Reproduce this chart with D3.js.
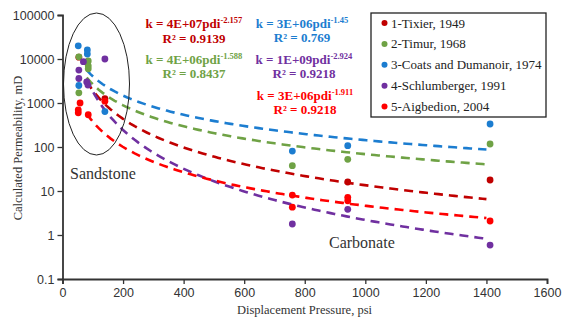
<!DOCTYPE html>
<html><head><meta charset="utf-8">
<script src="https://cdn.jsdelivr.net/npm/d3@7"></script>
<style>
html,body{margin:0;padding:0;background:#fff;}
svg{display:block;}
</style></head>
<body>
<svg id="chart" width="563" height="320"></svg>
<script>
// ---------- data ----------
const seriesNames = ["1-Tixier, 1949","2-Timur, 1968","3-Coats and Dumanoir, 1974","4-Schlumberger, 1991","5-Aigbedion, 2004"];
const seriesColors = ["#C00000","#6FA245","#1C7DD0","#7030A0","#FF0000"];
// pressure (psi) and permeability (mD) for each series
const tixierX = [54, 82, 140, 942, 1412];
const tixierY = [11000, 8500, 1250, 16, 17.8];
const timurX = [54, 85, 85, 85, 54, 759, 942, 1412];
const timurY = [11200, 9000, 7000, 6000, 1700, 37.6, 52.5, 117];
const coatsX = [52, 82, 82, 54, 140, 759, 942, 1412];
const coatsY = [19900, 16000, 13000, 2500, 640, 81, 107, 333];
const schlX = [140, 69, 54, 54, 80, 84, 759, 942, 1412];
const schlY = [10000, 8700, 5600, 3600, 3000, 2550, 1.78, 3.84, 0.59];
const aigX = [58, 52, 52, 85, 140, 759, 759, 942, 942, 1412];
const aigY = [1000, 700, 600, 540, 1100, 8.1, 4.3, 7.2, 6.0, 2.08];
// power-law trendlines k = a * pdi^b (as drawn)
const trendA = [4e7, 4e6, 3.2e6, 1.3e9, 2.5e6];
const trendB = [-2.157, -1.588, -1.45, -2.924, -1.911];
const trendRange = [80, 1400];
// equation labels
const eqCoef = ["k = 4E+07pdi","k = 4E+06pdi","k = 3E+06pdi","k = 1E+09pdi","k = 3E+06pdi"];
const eqExp = ["-2.157","-1.588","-1.45","-2.924","-1.911"];
const eqR2 = ["R² = 0.9139","R² = 0.8437","R² = 0.769","R² = 0.9218","R² = 0.9218"];
const xTicks = [0,200,400,600,800,1000,1200,1400,1600];
const yTicks = [0.1,1,10,100,1000,10000,100000];
const xTitle = "Displacement Pressure, psi";
const yTitle = "Calculated Permeability, mD";
const zoneLabels = ["Sandstone","Carbonate"];

const allX = [tixierX, timurX, coatsX, schlX, aigX];
const allY = [tixierY, timurY, coatsY, schlY, aigY];

// ---------- layout ----------
const svg = d3.select("#chart");
const serif = "'Liberation Serif','Times New Roman',serif";
const sans = "'Liberation Sans',Arial,sans-serif";
const x = d3.scaleLinear().domain([0,1600]).range([62.5,547]);
const y = d3.scaleLog().domain([0.1,100000]).range([279,15]);

// trendlines
const line = d3.line().x(d=>x(d[0])).y(d=>y(d[1]));
trendA.forEach((a,i)=>{
  const pts = d3.range(0,101).map(k=>{
    const px = trendRange[0] + (trendRange[1]-trendRange[0])*k/100;
    return [px, a*Math.pow(px, trendB[i])];
  });
  svg.append("path").attr("d", line(pts)).attr("fill","none")
    .attr("stroke", seriesColors[i]).attr("stroke-width",2.6)
    .attr("stroke-dasharray","9,6");
});

// points
allX.forEach((xs,i)=>{
  svg.append("g").selectAll("circle").data(xs).join("circle")
    .attr("cx", d=>x(d)).attr("cy",(d,j)=>y(allY[i][j])).attr("r",3.4)
    .attr("fill", seriesColors[i]);
});

// axes
const yAxis = d3.axisLeft(y).tickValues(yTicks).tickSize(5).tickFormat(d=>String(d));
const xAxis = d3.axisBottom(x).tickValues(xTicks).tickSize(5).tickFormat(d=>String(d));
const gy = svg.append("g").attr("transform","translate(62.5,0)").call(yAxis);
const gx = svg.append("g").attr("transform","translate(0,279)").call(xAxis);
[gx,gy].forEach(g=>{
  g.select(".domain").attr("stroke","#333").attr("stroke-width",1.8);
  g.selectAll(".tick line").attr("stroke","#333").attr("stroke-width",1.3);
  g.selectAll("text").attr("font-family",sans).attr("font-size","12.5px").attr("fill","#333");
});
gy.selectAll("text").attr("x",-8);
gx.selectAll("text").attr("y",9);

// axis titles
svg.append("text").attr("x",304.5).attr("y",314).attr("text-anchor","middle")
  .attr("font-family",serif).attr("font-size","12.5px").attr("fill","#333").text(xTitle);
svg.append("text").attr("transform","translate(22,148) rotate(-90)").attr("text-anchor","middle")
  .attr("font-family",serif).attr("font-size","12.5px").attr("fill","#333").text(yTitle);

// sandstone ellipse
svg.append("ellipse").attr("cx",96.5).attr("cy",84).attr("rx",33).attr("ry",71)
  .attr("fill","none").attr("stroke","#222").attr("stroke-width",1);

svg.append("text").attr("x",70).attr("y",179).attr("font-family",serif).attr("font-size","16px")
  .attr("fill","#333").text(zoneLabels[0]);
svg.append("text").attr("x",329).attr("y",248).attr("font-family",serif).attr("font-size","16px")
  .attr("fill","#333").text(zoneLabels[1]);

// equations
const eqPos = [[194,28,43],[194,64,78],[302,28,42],[304,64,78],[305,99.5,113.5]];
eqCoef.forEach((c,i)=>{
  const [cx,b1,b2] = eqPos[i];
  const t = svg.append("text").attr("x",cx).attr("y",b1).attr("text-anchor","middle")
    .attr("font-family",serif).attr("font-weight","bold").attr("font-size","13px")
    .attr("fill",seriesColors[i]);
  t.append("tspan").text(c);
  t.append("tspan").attr("dy",-5).attr("font-size","8.5px").text(eqExp[i]);
  svg.append("text").attr("x",cx).attr("y",b2).attr("text-anchor","middle")
    .attr("font-family",serif).attr("font-weight","bold").attr("font-size","13px")
    .attr("fill",seriesColors[i]).text(eqR2[i]);
});

// legend
const lg = svg.append("g");
lg.append("rect").attr("x",371).attr("y",13).attr("width",175).attr("height",104)
  .attr("fill","#fff").attr("stroke","#222").attr("stroke-width",1.3);
seriesNames.forEach((n,i)=>{
  const cy = 23 + i*20.9;
  lg.append("circle").attr("cx",384.5).attr("cy",cy).attr("r",3).attr("fill",seriesColors[i]);
  lg.append("text").attr("x",391).attr("y",cy+4.5).attr("font-family",serif)
    .attr("font-size","13px").attr("fill","#222").text(n);
});
</script>
</body></html>
